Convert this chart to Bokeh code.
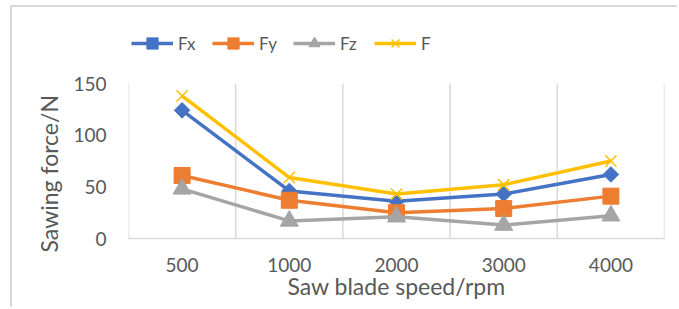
import numpy as np
from bokeh.plotting import figure
from bokeh.models import Legend, LegendItem, FixedTicker, Range1d, Title
from bokeh.embed import file_html
from bokeh.resources import INLINE

speeds = ["500", "1000", "2000", "3000", "4000"]
Fx = [124, 46, 36, 43, 62]
Fy = [61, 37, 25, 29, 41]
Fz = [48, 17, 21, 13, 22]
F = [138, 59, 43, 52, 75]
y_ticks = [0, 50, 100, 150]

FONT = "Lato"
TXT = "#595959"
GRID = "#D9D9D9"

xs = list(range(1, len(speeds) + 1))

# frame: top at canvas y=20, y=150 at canvas y=76, y=0 at canvas y=231
px_per_unit = (231 - 76) / y_ticks[-1]
y_top = y_ticks[-1] + (76 - 20) / px_per_unit

p = figure(width=667, height=302, output_backend="svg", toolbar_location=None,
           x_range=Range1d(0.5, len(speeds) + 0.5), y_range=Range1d(0, y_top),
           min_border_left=116, min_border_right=15, min_border_top=20, min_border_bottom=71,
           styles={"margin-left": "10px", "margin-top": "5px",
                   "border-top": "2px solid #d9d9d9", "border-left": "2px solid #d9d9d9"})
p.outline_line_color = None
p.background_fill_color = None
p.border_fill_color = "white"

# axes
p.xaxis.ticker = FixedTicker(ticks=xs)
p.xaxis.major_label_overrides = {x: s for x, s in zip(xs, speeds)}
p.yaxis.ticker = FixedTicker(ticks=y_ticks)
for ax in (p.xaxis[0], p.yaxis[0]):
    ax.major_tick_line_color = None
    ax.minor_tick_line_color = None
    ax.major_label_text_font = FONT
    ax.major_label_text_font_size = "19px"
    ax.major_label_text_color = TXT
    ax.axis_label_text_font = FONT
    ax.axis_label_text_font_size = "23px"
    ax.axis_label_text_color = TXT
    ax.axis_label_text_font_style = "normal"
p.yaxis.axis_line_color = None
p.xaxis.axis_line_color = GRID
p.xaxis.axis_line_width = 1.5
p.xaxis.axis_label = "Saw blade speed/rpm"
p.yaxis.major_label_standoff = 16
p.xaxis.major_label_standoff = 13
p.xaxis.axis_label_standoff = -3

# y title anchored near the bottom of the 0-150 span
p.add_layout(Title(text="Sawing force/N", align="left", offset=-14, standoff=15,
                   text_font=FONT, text_font_size="23px", text_color=TXT,
                   text_font_style="normal"), "left")

# grid lines between categories, from 0 up to the top tick
p.ygrid.grid_line_color = None
p.xgrid.grid_line_color = None
bounds = [x - 0.5 for x in xs] + [xs[-1] + 0.5]
p.segment(x0=bounds, y0=[y_ticks[0]] * len(bounds), x1=bounds, y1=[y_ticks[-1]] * len(bounds),
          line_color=GRID, line_width=1.5, level="underlay")

series = [
    ("Fx", Fx, "#4472C4", "square", 11, np.pi / 4),
    ("Fy", Fy, "#ED7D31", "square", 16, 0),
    ("Fz", Fz, "#A5A5A5", "triangle", 18, 0),
    ("F", F, "#FFC000", "x", 16, 0),
]
items = []
for name, vals, col, mk, sz, ang in series:
    l = p.line(xs, vals, line_color=col, line_width=3.5)
    if mk == "x":
        s = p.scatter(xs, vals, marker=mk, size=sz, line_color=col, line_width=1.5)
    else:
        s = p.scatter(xs, vals, marker=mk, size=sz, angle=ang, fill_color=col, line_color=col)
    items.append(LegendItem(label=name, renderers=[l, s]))

legend = Legend(items=items, orientation="horizontal", location=(3, 181),
                glyph_width=42, glyph_height=28, label_standoff=5, spacing=14,
                label_text_font=FONT, label_text_font_size="17px", label_text_color=TXT,
                background_fill_alpha=0, border_line_color=None, padding=0, margin=0)
p.add_layout(legend, "center")

open("out.html", "w").write(file_html(p, INLINE))
